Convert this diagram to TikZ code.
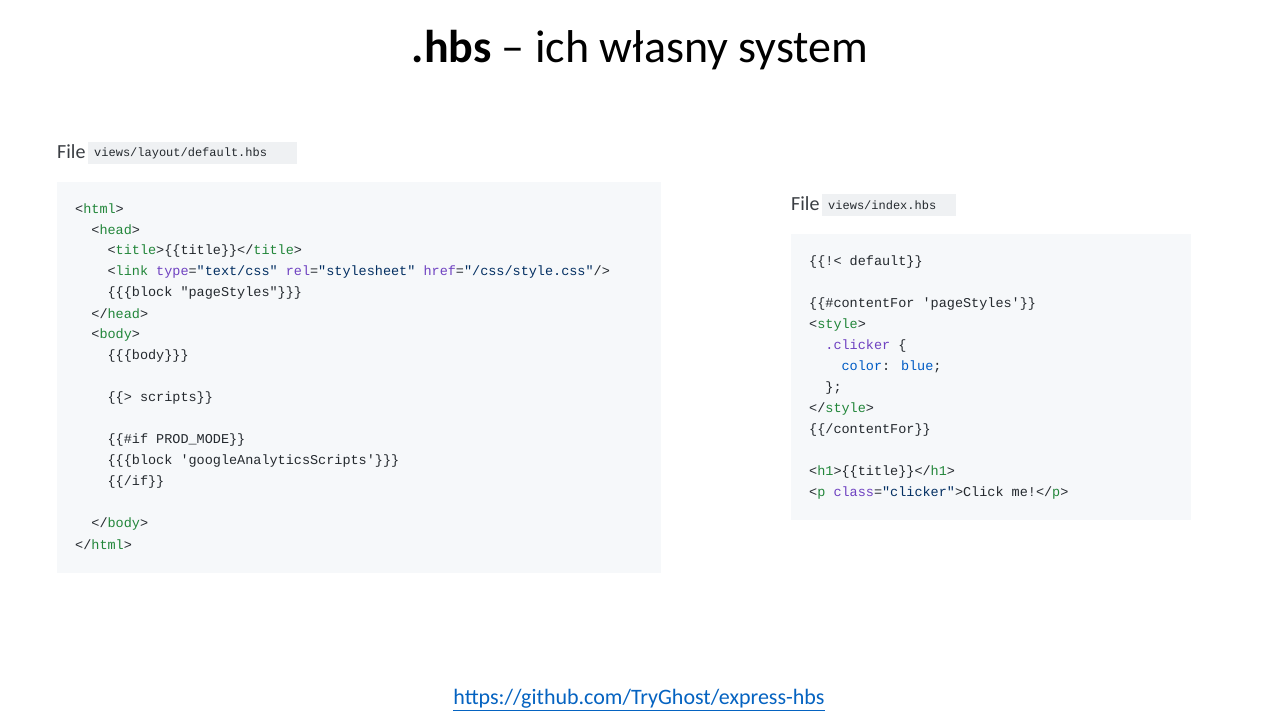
\documentclass[tikz,border=0pt]{standalone}
\usepackage{fontspec}
\setmainfont{Carlito}
\newfontfamily\cm{Liberation Mono}
\definecolor{tagc}{HTML}{22863A}
\definecolor{attc}{HTML}{6F42C1}
\definecolor{strc}{HTML}{032F62}
\definecolor{prc}{HTML}{005CC5}
\definecolor{txc}{HTML}{24292E}
\definecolor{bgc}{HTML}{F6F8FA}
\definecolor{chip}{HTML}{EFF1F3}
\definecolor{linkc}{HTML}{0563C1}
\newcommand\tg[1]{\textcolor{tagc}{#1}}
\newcommand\at[1]{\textcolor{attc}{#1}}
\newcommand\st[1]{\textcolor{strc}{#1}}
\newcommand\pr[1]{\textcolor{prc}{#1}}
\begin{document}
\begin{tikzpicture}[x=1pt,y=-1pt,
  code/.style={anchor=west,inner sep=0pt,font=\cm\fontsize{13.5}{14}\selectfont,text=txc},
  lbl/.style={anchor=west,inner sep=0pt,font=\fontsize{20}{22}\selectfont,text=txc!90}]
\useasboundingbox[fill=white] (0,0) rectangle (1280,720);
\node (title) at (640,50) {\fontsize{46}{50}\selectfont\textbf{.hbs} -- ich własny system};
% left
\fill[bgc] (57,182) rectangle (661,573);
\fill[chip] (88,142) rectangle (297,164);
\node[lbl] (f1) at (57,152) {File};
\node[code,font=\cm\fontsize{12}{14}\selectfont] (c1) at (94,153) {views/layout/default.hbs};
\foreach \i/\ind/\t in {
0/0/{<\tg{html}>},
1/2/{<\tg{head}>},
2/4/{<\tg{title}>\{\{title\}\}</\tg{title}>},
3/4/{<\tg{link} \at{type}=\st{"text/css"} \at{rel}=\st{"stylesheet"} \at{href}=\st{"/css/style.css"}/>},
4/4/{\{\{\{block "pageStyles"\}\}\}},
5/2/{</\tg{head}>},
6/2/{<\tg{body}>},
7/4/{\{\{\{body\}\}\}},
9/4/{\{\{> scripts\}\}},
11/4/{\{\{\#if PROD\_MODE\}\}},
12/4/{\{\{\{block 'googleAnalyticsScripts'\}\}\}},
13/4/{\{\{/if\}\}},
15/2/{</\tg{body}>},
16/0/{</\tg{html}>}}
  \node[code] (l\i) at ({75+8.1*\ind},{209+21*\i}) {\t};
% right
\fill[bgc] (791,234) rectangle (1191,520);
\fill[chip] (822,194) rectangle (956,216);
\node[lbl] (f2) at (791,204) {File};
\node[code,font=\cm\fontsize{12}{14}\selectfont] (c2) at (828,205) {views/index.hbs};
\foreach \i/\ind/\t in {
0/0/{\{\{!< default\}\}},
2/0/{\{\{\#contentFor 'pageStyles'\}\}},
3/0/{<\tg{style}>},
4/2/{\at{.clicker} \{},
5/4/{\pr{color}: \pr{blue};},
6/2/{\};},
7/0/{</\tg{style}>},
8/0/{\{\{/contentFor\}\}},
10/0/{<\tg{h1}>\{\{title\}\}</\tg{h1}>},
11/0/{<\tg{p} \at{class}=\st{"clicker"}>Click me!</\tg{p}>}}
  \node[code] (r\i) at ({809+8.1*\ind},{262+21*\i}) {\t};
\node[text=linkc,font=\fontsize{22}{24}\selectfont] (url) at (639,700) {\underline{https://github.com/TryGhost/express-hbs}};
\end{tikzpicture}
\end{document}
